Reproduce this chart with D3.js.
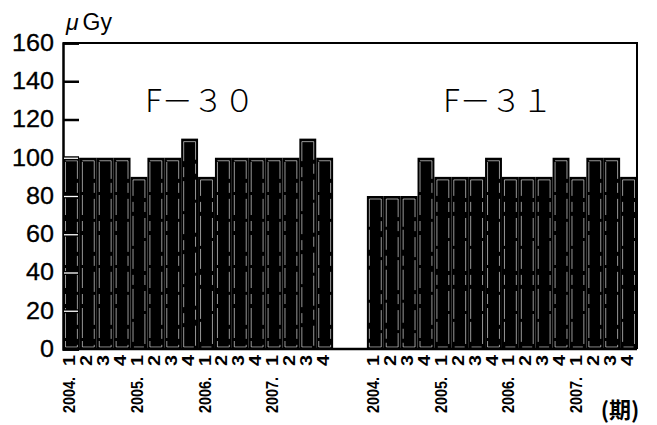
<!DOCTYPE html>
<html><head><meta charset="utf-8">
<script src="https://cdn.jsdelivr.net/npm/d3@7"></script>
<style>body{margin:0;background:#fff}svg{display:block}</style>
</head><body>
<svg id="c" width="657" height="425"></svg>
<script>
const years = ["2004.", "2005.", "2006.", "2007."];
const quarters = ["1", "2", "3", "4"];
const groups = ["F－３０", "F－３１"];
const f30 = [100,100,100,100, 90,100,100,110, 90,100,100,100, 100,100,110,100];
const f31 = [80,80,80,100, 90,90,90,100, 90,90,90,100, 90,100,100,90];
const yTicks = [0,20,40,60,80,100,120,140,160];

const svg = d3.select("#c");
const L = 63, R = 637, T = 43, B = 349;

const slots = [];
groups.forEach((g, gi) => {
  const vals = gi === 0 ? f30 : f31;
  years.forEach((y, yi) => quarters.forEach((q, qi) => {
    slots.push({g: gi, year: y, q: q, v: vals[yi*4+qi], key: gi + "-" + y + q});
  }));
  if (gi === 0) { slots.push({gap: true, key: "gap1"}); slots.push({gap: true, key: "gap2"}); }
});

const x = d3.scaleBand().domain(slots.map(d => d.key)).range([L, R]).padding(0);
const y = d3.scaleLinear().domain([0, 160]).range([B, T]);

const bars = slots.filter(d => !d.gap);
const bw = x.bandwidth();

svg.append("g").selectAll("rect").data(bars).join("rect")
  .attr("x", d => x(d.key)).attr("y", d => y(d.v))
  .attr("width", bw).attr("height", d => y(0) - y(d.v))
  .attr("fill", "#000");
svg.append("g").selectAll("rect").data(bars).join("rect")
  .attr("x", d => x(d.key) + 2.5).attr("y", d => y(d.v) + 3)
  .attr("width", bw - 5).attr("height", d => y(0) - y(d.v) - 5)
  .attr("fill", "none").attr("stroke", "#fff").attr("stroke-width", 0.7).attr("stroke-opacity", 0.85)
  .attr("stroke-dasharray", "30,4,10,6,20,3");

// frame
svg.append("path").attr("d", `M${L},${T}H${R}V${B}`).attr("fill","none").attr("stroke","#000").attr("stroke-width",2);
svg.append("line").attr("x1", L).attr("x2", R).attr("y1", B).attr("y2", B).attr("stroke","#000").attr("stroke-width",2.5);

// y axis
const yAxis = d3.axisRight(y).tickValues(yTicks).tickSize(16).tickFormat("");
const ga = svg.append("g").attr("transform", `translate(${L},0)`).call(yAxis);
ga.select(".domain").attr("stroke-width", 2.5).attr("stroke","#000");
ga.selectAll(".tick line").attr("stroke", "#000").attr("stroke-width", d => d > 0 && d <= 100 ? 4 : 2.5);
ga.selectAll(".tick").filter(d => d > 0 && d <= 100).append("line")
  .attr("x1", 1).attr("x2", 15).attr("stroke", "#fff").attr("stroke-width", 1.3);

svg.append("g").selectAll("text").data(yTicks).join("text")
  .attr("x", 54).attr("y", d => y(d)).attr("dy", "0.33em")
  .attr("text-anchor", "end")
  .attr("font-family", "Liberation Sans, Arial, sans-serif").attr("font-size", 24)
  .attr("stroke", "#000").attr("stroke-width", 0.3)
  .attr("textLength", d => String(d).length * 14).attr("lengthAdjust", "spacingAndGlyphs")
  .text(d => d);

// unit
const u = svg.append("text").attr("x", 66).attr("y", 30)
  .attr("font-family", "Liberation Sans, Arial, sans-serif").attr("font-size", 23);
u.append("tspan").attr("font-style", "italic").text("μ");
u.append("tspan").attr("dx", 4).text("Gy");

// group titles
const titleX = [200, 498];
groups.forEach((g, i) => {
  svg.append("text").attr("x", titleX[i]).attr("y", 112).attr("text-anchor", "middle")
    .attr("font-family", "Noto Sans CJK JP, sans-serif").attr("font-size", 31).attr("font-weight", 300)
    .text(g);
});

// x labels
const lab = svg.append("g").attr("font-family", "Liberation Sans, Arial, sans-serif")
  .attr("font-size", 16).attr("font-weight", 700);
lab.selectAll("text.q").data(bars).join("text").attr("class", "q")
  .attr("transform", d => `translate(${x(d.key) + bw/2 + 4},355) rotate(-90)`)
  .attr("text-anchor", "end").attr("textLength", 11).attr("lengthAdjust", "spacingAndGlyphs").text(d => d.q);
lab.selectAll("text.yr").data(bars.filter(d => d.q === "1")).join("text").attr("class", "yr")
  .attr("transform", d => `translate(${x(d.key) + bw/2 + 4},377) rotate(-90)`)
  .attr("text-anchor", "end").attr("textLength", 36).attr("lengthAdjust", "spacingAndGlyphs").text(d => d.year);

svg.append("text").attr("x", 620).attr("y", 418).attr("text-anchor", "middle")
  .attr("font-family", "Noto Sans CJK JP, sans-serif").attr("font-size", 22).attr("font-weight", 700)
  .text("(期)");
</script>
</body></html>
